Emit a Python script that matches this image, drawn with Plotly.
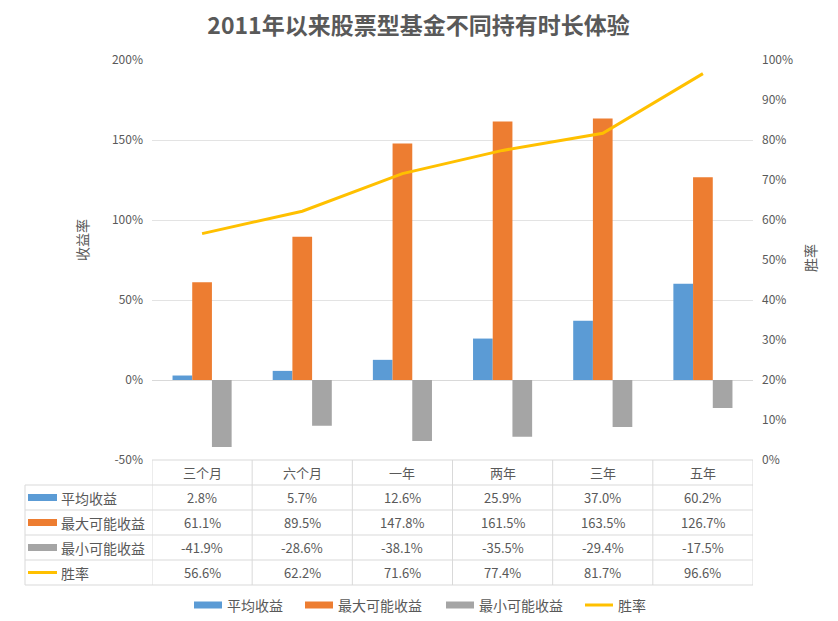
import plotly.graph_objects as go

categories = ["三个月", "六个月", "一年", "两年", "三年", "五年"]
avg_return = [2.8, 5.7, 12.6, 25.9, 37.0, 60.2]
max_return = [61.1, 89.5, 147.8, 161.5, 163.5, 126.7]
min_return = [-41.9, -28.6, -38.1, -35.5, -29.4, -17.5]
win_rate = [56.6, 62.2, 71.6, 77.4, 81.7, 96.6]

series_names = ["平均收益", "最大可能收益", "最小可能收益", "胜率"]
colors = ["#5B9BD5", "#ED7D31", "#A5A5A5", "#FFC000"]
left_ticks = [-50, 0, 50, 100, 150, 200]
right_ticks = [0, 10, 20, 30, 40, 50, 60, 70, 80, 90, 100]

OFF = 8  # page body margin offset
W, H = 838, 621
L, R, T, B = 152, 85, 60, 161
PW, PH = W - L - R, H - T - B
FONT = "Noto Sans CJK SC, Noto Sans, sans-serif"
TXT = "#595959"
GRID = "#E3E3E3"
TBL = "#D9D9D9"


def px_x(p):
    return (p - L) / PW


def px_y(p):
    return (H - B - p) / PH


fig = go.Figure()
for name, vals, col in zip(series_names[:3], [avg_return, max_return, min_return], colors[:3]):
    fig.add_trace(go.Bar(x=categories, y=[v / 100 for v in vals], name=name,
                         marker=dict(color=col, line=dict(width=0)), yaxis="y"))
fig.add_trace(go.Scatter(x=categories, y=[v / 100 for v in win_rate], name=series_names[3],
                         mode="lines", line=dict(color=colors[3], width=3), yaxis="y2"))

shapes = []
annotations = []

row_h = 25
top = H - B
rows = [avg_return, max_return, min_return, win_rate]
shapes.append(dict(type="line", xref="x", yref="paper", x0=-0.5, x1=5.5,
                   y0=px_y(top), y1=px_y(top), line=dict(color=TBL, width=1)))
for i in range(1, 6):
    yy = px_y(top + i * row_h)
    shapes.append(dict(type="line", xref="paper", yref="paper", x0=px_x(25), x1=1,
                       y0=yy, y1=yy, line=dict(color=TBL, width=1)))
shapes.append(dict(type="line", xref="paper", yref="paper", x0=px_x(25), x1=px_x(25),
                   y0=px_y(top + row_h), y1=px_y(top + 5 * row_h), line=dict(color=TBL, width=1)))
for k in range(len(categories) + 1):
    xx = k - 0.5
    shapes.append(dict(type="line", xref="x", yref="paper", x0=xx, x1=xx,
                       y0=px_y(top), y1=px_y(top + 5 * row_h), line=dict(color=TBL, width=1)))
for c in categories:
    annotations.append(dict(x=c, y=px_y(top + row_h / 2), xref="x", yref="paper",
                            xanchor="center", yanchor="middle",
                            text=c, showarrow=False, font=dict(size=13, color=TXT, family=FONT)))
for r, (name, vals, col) in enumerate(zip(series_names, rows, colors)):
    yc = top + (r + 1.5) * row_h
    if r < 3:
        shapes.append(dict(type="rect", xref="paper", yref="paper", x0=px_x(28), x1=px_x(57),
                           y0=px_y(yc - 3.5), y1=px_y(yc + 3.5), fillcolor=col, line=dict(width=0)))
    else:
        shapes.append(dict(type="line", xref="paper", yref="paper", x0=px_x(28), x1=px_x(57),
                           y0=px_y(yc), y1=px_y(yc), line=dict(color=col, width=3)))
    annotations.append(dict(x=px_x(59), y=px_y(yc), xref="paper", yref="paper",
                            xanchor="left", yanchor="middle",
                            text=name, showarrow=False, font=dict(size=14, color=TXT, family=FONT)))
    for c, v in zip(categories, vals):
        annotations.append(dict(x=c, y=px_y(yc), xref="x", yref="paper",
                                xanchor="center", yanchor="middle",
                                text=f"{v:.1f}%", showarrow=False,
                                font=dict(size=13, color=TXT, family=FONT)))

leg_y = 605
leg_x = [194, 305, 446, 585]
for name, col, lx in zip(series_names, colors, leg_x):
    if name != "胜率":
        shapes.append(dict(type="rect", xref="paper", yref="paper", x0=px_x(lx), x1=px_x(lx + 28),
                           y0=px_y(leg_y - 3.5), y1=px_y(leg_y + 3.5), fillcolor=col, line=dict(width=0)))
    else:
        shapes.append(dict(type="line", xref="paper", yref="paper", x0=px_x(lx), x1=px_x(lx + 28),
                           y0=px_y(leg_y), y1=px_y(leg_y), line=dict(color=col, width=3)))
    annotations.append(dict(x=px_x(lx + 31), y=px_y(leg_y), xref="paper", yref="paper",
                            xanchor="left", yanchor="middle",
                            text=name, showarrow=False, font=dict(size=14, color=TXT, family=FONT)))

annotations.append(dict(x=px_x(82), y=px_y(240), xref="paper", yref="paper", text="收益率",
                        xanchor="center", yanchor="middle",
                        textangle=-90, showarrow=False, font=dict(size=14, color=TXT, family=FONT)))
annotations.append(dict(x=px_x(810), y=px_y(258), xref="paper", yref="paper", text="胜率",
                        xanchor="center", yanchor="middle",
                        textangle=-90, showarrow=False, font=dict(size=14, color=TXT, family=FONT)))

fig.update_layout(
    width=W - OFF, height=H - OFF,
    margin=dict(l=L - OFF, r=R, t=T - OFF, b=B, pad=0),
    paper_bgcolor="white", plot_bgcolor="white",
    title=dict(text="<b>2011年以来股票型基金不同持有时长体验</b>", x=px_x(418.5), xref="paper",
               xanchor="center", y=1 - (26 - OFF) / (H - OFF), yanchor="middle",
               font=dict(size=23, color=TXT, family=FONT)),
    showlegend=False,
    barmode="group", bargap=0.41, bargroupgap=0,
    xaxis=dict(type="category", range=[-0.5, 5.5], showticklabels=False, showgrid=False,
               zeroline=False, showline=False, ticks=""),
    yaxis=dict(range=[-0.5, 2.0], tickvals=[v / 100 for v in left_ticks],
               ticktext=[f"{v}%" for v in left_ticks], showgrid=True, gridcolor=GRID, gridwidth=1,
               zeroline=True, zerolinecolor=TBL, zerolinewidth=1, showline=False,
               tickfont=dict(size=12, color=TXT, family=FONT), ticklabelstandoff=8),
    yaxis2=dict(range=[0, 1.0], overlaying="y", side="right", tickvals=[v / 100 for v in right_ticks],
                ticktext=[f"{v}%" for v in right_ticks], showgrid=False, zeroline=False, showline=False,
                tickfont=dict(size=12, color=TXT, family=FONT), ticklabelstandoff=8),
    shapes=shapes, annotations=annotations,
)

fig.write_html("out.html")
